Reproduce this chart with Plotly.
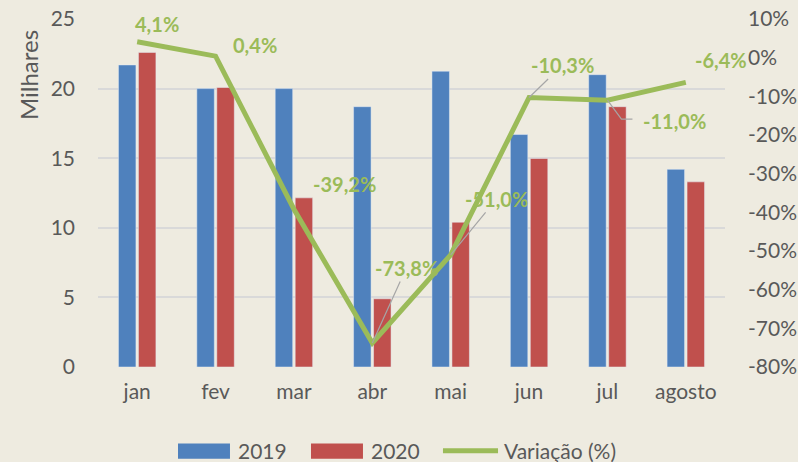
import plotly.graph_objects as go

months = ["jan", "fev", "mar", "abr", "mai", "jun", "jul", "agosto"]
v2019 = [21.7, 20.0, 20.0, 18.7, 21.25, 16.7, 21.0, 14.2]
v2020 = [22.6, 20.08, 12.15, 4.9, 10.4, 14.98, 18.7, 13.3]
variacao = [4.1, 0.4, -39.2, -73.8, -51.0, -10.3, -11.0, -6.4]
var_labels = ["4,1%", "0,4%", "-39,2%", "-73,8%", "-51,0%", "-10,3%", "-11,0%", "-6,4%"]
left_ticks = [0, 5, 10, 15, 20, 25]
right_ticks = [10, 0, -10, -20, -30, -40, -50, -60, -70, -80]

BG = "#EEEBE0"
GREEN = "#9BBB59"
BLUE = "#4F81BD"
RED = "#C0504D"
TXT = "#595959"
LEADER = "#A6A6A6"
FONT = "Lato, Open Sans, sans-serif"

fig = go.Figure()
fig.add_trace(go.Bar(x=months, y=v2019, name="2019", marker_color=BLUE))
fig.add_trace(go.Bar(x=months, y=v2020, name="2020", marker_color=RED))
fig.add_trace(go.Scatter(x=months, y=variacao, name="Variação (%)", yaxis="y2",
                         mode="lines", line=dict(color=GREEN, width=5)))

# label offsets (pixels) : (ax, ay, leader mode) ; leader: 0 none, 1 straight, 2 elbow
offsets = [
    (20, -18, 0),
    (39, -11, 0),
    (51, -25, 0),
    (34, -75, 1),
    (46, -56, 1),
    (33, -32, 1),
    (67, 21, 2),
    (35, -22, 0),
]
for i, (m, v, t, (ax, ay, lead)) in enumerate(zip(months, variacao, var_labels, offsets)):
    fig.add_annotation(
        x=m, y=v, xref="x", yref="y2", text="<b>" + t + "</b>",
        showarrow=True, arrowhead=0, arrowwidth=1.2,
        arrowcolor=LEADER if lead == 1 else "rgba(0,0,0,0)",
        ax=ax, ay=ay, axref="pixel", ayref="pixel", standoff=0,
        font=dict(family=FONT, size=20, color=GREEN),
    )
    if lead == 2:
        fig.add_shape(type="path", xref="x", yref="y2",
                      xsizemode="pixel", ysizemode="pixel", xanchor=i, yanchor=v,
                      path="M0,0 L14,-19 L25,-19",
                      line=dict(color=LEADER, width=1.2))

# y-axis title placed as in the reference (near top)
fig.add_annotation(x=-0.1116, y=0.839, xref="paper", yref="paper", text="Milhares",
                   textangle=-90, showarrow=False, xanchor="center", yanchor="middle",
                   font=dict(family=FONT, size=24, color=TXT))

# custom legend
leg_y0, leg_y1, leg_yc = -0.2195, -0.264, -0.241
fig.add_shape(type="rect", xref="paper", yref="paper", x0=0.1276, x1=0.2105,
              y0=leg_y1, y1=leg_y0, fillcolor=BLUE, line=dict(width=0))
fig.add_shape(type="rect", xref="paper", yref="paper", x0=0.3397, x1=0.4226,
              y0=leg_y1, y1=leg_y0, fillcolor=RED, line=dict(width=0))
fig.add_shape(type="line", xref="paper", yref="paper", x0=0.5502, x1=0.638,
              y0=leg_yc, y1=leg_yc, line=dict(color=GREEN, width=5))
for xp, t in [(0.2201, "2019"), (0.4322, "2020"), (0.6443, "Variação (%)")]:
    fig.add_annotation(x=xp, y=leg_yc, xref="paper", yref="paper", text=t,
                       showarrow=False, xanchor="left", yanchor="middle",
                       font=dict(family=FONT, size=21, color=TXT))

fig.update_layout(
    width=798, height=462,
    paper_bgcolor=BG, plot_bgcolor=BG,
    margin=dict(l=98, r=73, t=19, b=95, autoexpand=False),
    barmode="group", bargap=0.49, bargroupgap=0.125,
    font=dict(family=FONT, size=21, color=TXT),
    showlegend=False,
    xaxis=dict(showgrid=False, ticks="", tickfont=dict(size=21), ticklabelstandoff=10,
               automargin=False, range=[-0.5, len(months) - 0.5], domain=[0, 1]),
    yaxis=dict(range=[0, 25], tickvals=left_ticks, gridcolor="#D9D9D9", gridwidth=2,
               zeroline=False, ticklabelstandoff=22, automargin=False,
               tickfont=dict(size=21)),
    yaxis2=dict(range=[-80, 10], tickvals=right_ticks,
                ticktext=[f"{t}%" for t in right_ticks],
                overlaying="y", side="right", showgrid=False, zeroline=False,
                ticklabelstandoff=22, automargin=False, tickfont=dict(size=21)),
)
fig.write_html("out.html", config={"displayModeBar": False},
               post_script="document.body.style.margin='0';document.body.style.overflow='hidden';")
